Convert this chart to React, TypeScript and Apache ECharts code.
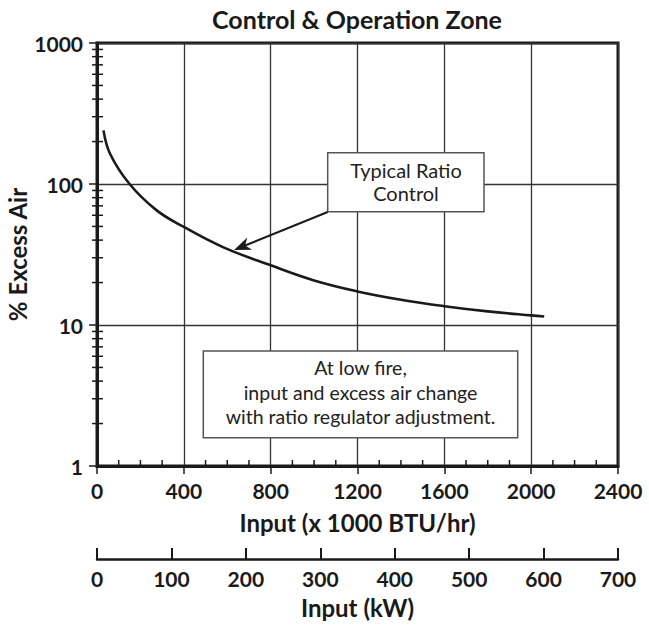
import React, { useEffect, useRef } from "react";
import * as echarts from "echarts";

const FONT = "Lato, 'Open Sans', sans-serif";
const INK = "#1a1a1a";

// Curve: input (x1000 BTU/hr) vs % excess air
const inputBtu = [30, 60, 150, 275, 400, 580, 800, 1000, 1200, 1400, 1600, 1800, 2000, 2060];
const excessAir = [240, 164, 100, 65, 49.6, 35.7, 26.5, 20.7, 17.3, 15.1, 13.6, 12.5, 11.7, 11.5];

// Minor tick values
const yMinorTicks = [2, 3, 4, 5, 6, 7, 8, 9, 20, 30, 40, 50, 60, 70, 80, 90, 200, 300, 400, 500, 600, 700, 800, 900];
const xMinorTicks = [100, 200, 300, 500, 600, 700, 900, 1000, 1100, 1300, 1400, 1500, 1700, 1800, 1900, 2100, 2200, 2300];

const titleText = "Control & Operation Zone";
const ratioNote = ["Typical Ratio", "Control"];
const lowFireNote = ["At low fire,", "input and excess air change", "with ratio regulator adjustment."];

const plain = (v: number) => String(v);

export default function App() {
  const ref = useRef<HTMLDivElement>(null);
  useEffect(() => {
    if (!ref.current) return;
    const chart = echarts.init(ref.current, null, { renderer: "svg" });

    // arrow geometry
    const tail = [327.7, 212];
    const tip = [234, 250];
    const dx = tip[0] - tail[0];
    const dy = tip[1] - tail[1];
    const len = Math.hypot(dx, dy);
    const ux = dx / len;
    const uy = dy / len;
    const L = 17;
    const w = 6.5;
    const bx = tip[0] - L * ux;
    const by = tip[1] - L * uy;
    const nx = -uy;
    const ny = ux;
    const notch = [tip[0] - 0.7 * L * ux, tip[1] - 0.7 * L * uy];

    const tickLabel = {
      fontSize: 21,
      fontWeight: "bold",
      color: INK,
      fontFamily: FONT,
      showMinLabel: true,
      showMaxLabel: true,
      formatter: plain,
    };
    const nameStyle = { fontSize: 24, fontWeight: "bold", color: INK, fontFamily: FONT };

    const option: any = {
      animation: false,
      backgroundColor: "#fff",
      textStyle: { fontFamily: FONT },
      grid: {
        left: 97,
        right: 31,
        top: 43,
        bottom: 160,
        show: true,
        borderColor: INK,
        borderWidth: 3,
        containLabel: false,
        outerBoundsMode: "none",
      },
      xAxis: [
        {
          type: "value",
          min: 0,
          max: 2400,
          interval: 400,
          position: "bottom",
          axisLine: { show: true, onZero: false, lineStyle: { color: INK, width: 3 } },
          axisTick: { show: true, length: 8, lineStyle: { color: INK, width: 1.5 } },
          axisLabel: { ...tickLabel, margin: 14 },
          splitLine: { show: true, lineStyle: { color: "#333", width: 1.3 } },
          name: "Input (x 1000 BTU/hr)",
          nameLocation: "middle",
          nameGap: 44,
          nameMoveOverlap: false,
          nameTextStyle: nameStyle,
        },
        {
          type: "value",
          min: 0,
          max: 700,
          interval: 100,
          position: "bottom",
          offset: 93,
          axisLine: { show: true, onZero: false, lineStyle: { color: INK, width: 2.5 } },
          axisTick: { show: true, inside: true, length: 11, lineStyle: { color: INK, width: 2 } },
          axisLabel: { ...tickLabel, margin: 9 },
          splitLine: { show: false },
          name: "Input (kW)",
          nameLocation: "middle",
          nameGap: 36,
          nameMoveOverlap: false,
          nameTextStyle: nameStyle,
        },
      ],
      yAxis: {
        type: "log",
        logBase: 10,
        min: 1,
        max: 1000,
        splitNumber: 3,
        axisLine: { show: true, lineStyle: { color: INK, width: 3 } },
        axisTick: { show: true, length: 8, lineStyle: { color: INK, width: 1.5 } },
        axisLabel: { ...tickLabel, margin: 14 },
        splitLine: { show: true, lineStyle: { color: "#333", width: 1.3 } },
        name: "% Excess Air",
        nameLocation: "middle",
        nameGap: 68,
        nameMoveOverlap: false,
        nameTextStyle: nameStyle,
      },
      series: [
        {
          type: "line",
          xAxisIndex: 0,
          yAxisIndex: 0,
          data: inputBtu.map((x, i) => [x, excessAir[i]]),
          smooth: 0.4,
          showSymbol: false,
          lineStyle: { color: INK, width: 2.6 },
          z: 5,
        },
        {
          type: "custom",
          xAxisIndex: 0,
          yAxisIndex: 0,
          clip: false,
          silent: true,
          data: yMinorTicks.map((v) => [0, v]),
          renderItem: (params: any, api: any) => {
            const p = api.coord([0, api.value(1)]);
            return {
              type: "line",
              shape: { x1: p[0] - 5, y1: p[1], x2: p[0] + 6, y2: p[1] },
              style: { stroke: INK, lineWidth: 1.5 },
            };
          },
          z: 6,
        },
        {
          type: "custom",
          xAxisIndex: 0,
          yAxisIndex: 0,
          clip: false,
          silent: true,
          data: xMinorTicks.map((v) => [v, 1]),
          renderItem: (params: any, api: any) => {
            const p = api.coord([api.value(0), 1]);
            return {
              type: "line",
              shape: { x1: p[0], y1: p[1], x2: p[0], y2: p[1] - 6 },
              style: { stroke: INK, lineWidth: 1.5 },
            };
          },
          z: 6,
        },
      ],
      graphic: [
        {
          type: "text",
          x: 357,
          y: 19,
          z: 100,
          style: {
            text: titleText,
            fontSize: 25,
            fontWeight: "bold",
            fontFamily: FONT,
            fill: INK,
            textAlign: "center",
            textVerticalAlign: "middle",
          },
        },
        {
          type: "rect",
          z: 100,
          shape: { x: 327.7, y: 152.7, width: 156.3, height: 59 },
          style: { fill: "#fff", stroke: "#555", lineWidth: 1.5 },
        },
        {
          type: "text",
          x: 406,
          y: 181.5,
          z: 101,
          style: {
            text: ratioNote.join("\n"),
            fontSize: 20,
            lineHeight: 23,
            fontFamily: FONT,
            fill: "#222",
            textAlign: "center",
            textVerticalAlign: "middle",
          },
        },
        {
          type: "rect",
          z: 100,
          shape: { x: 203.3, y: 351, width: 314.4, height: 86.7 },
          style: { fill: "#fff", stroke: "#555", lineWidth: 1.5 },
        },
        {
          type: "text",
          x: 360.5,
          y: 392,
          z: 101,
          style: {
            text: lowFireNote.join("\n"),
            fontSize: 19.5,
            lineHeight: 24.5,
            fontFamily: FONT,
            fill: "#222",
            textAlign: "center",
            textVerticalAlign: "middle",
          },
        },
        {
          type: "line",
          z: 100,
          shape: { x1: tail[0], y1: tail[1], x2: notch[0], y2: notch[1] },
          style: { stroke: INK, lineWidth: 2 },
        },
        {
          type: "polygon",
          z: 100,
          shape: {
            points: [
              [tip[0], tip[1]],
              [bx + w * nx, by + w * ny],
              [notch[0], notch[1]],
              [bx - w * nx, by - w * ny],
            ],
          },
          style: { fill: INK },
        },
      ],
    };
    chart.setOption(option);
    return () => chart.dispose();
  }, []);
  return (
    <div
      ref={ref}
      style={{ position: "fixed", left: 0, top: 0, width: 649, height: 626, background: "#fff" }}
    />
  );
}
